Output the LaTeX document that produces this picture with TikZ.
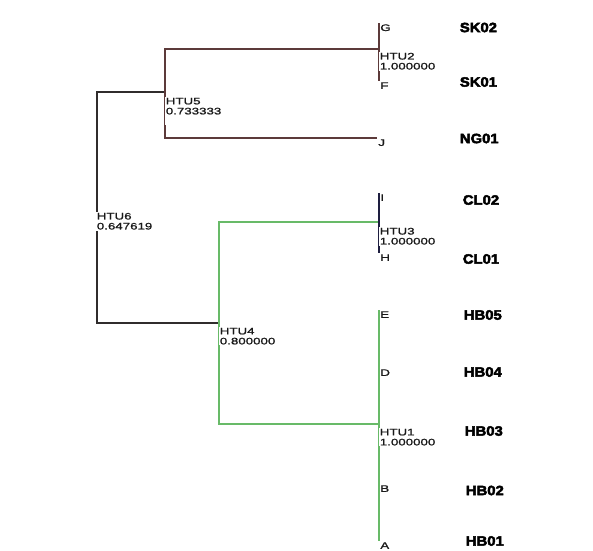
\documentclass[tikz,border=0pt]{standalone}
\usepackage{fontspec}
\setmainfont{Liberation Sans}
\newfontfamily\htufont[FakeStretch=1.4,FakeBold=1.2]{Liberation Sans}
\newfontfamily\taxfont[FakeStretch=1.1,FakeBold=3.5]{Liberation Sans Bold}
\usepackage{tikz}
\usetikzlibrary{positioning}

\definecolor{rootline}{RGB}{48,44,44}
\definecolor{brnline}{RGB}{92,58,58}
\definecolor{grnline}{RGB}{104,186,104}
\definecolor{navyline}{RGB}{30,30,64}

\begin{document}
\begin{tikzpicture}[
  x=1pt, y=-1pt,
  line width=1.7pt,
  leaf/.style={anchor=north west, inner sep=0.5pt, text=black!90,
    font=\htufont\fontsize{9.5}{10}\selectfont},
  htu/.style={anchor=north west, inner sep=1pt, fill=white, align=left,
    text=black!90, font=\htufont\fontsize{9.5}{10}\selectfont},
  tax/.style={anchor=west, inner sep=0pt,
    font=\taxfont\fontsize{13.5}{14}\selectfont},
  rootbr/.style={draw=rootline},
  brnbr/.style={draw=brnline},
  grnbr/.style={draw=grnline},
  navybr/.style={draw=navyline},
]
  % page
  \fill[white] (0,0) rectangle (593,550);
  \useasboundingbox (0,0) rectangle (593,550);

  % join points of the tree
  \coordinate (n6) at (97,216);
  \coordinate (n5) at (165,92);
  \coordinate (n4) at (219,323);
  \coordinate (n2) at (379,49);
  \coordinate (n3) at (379,222);
  \coordinate (n1) at (379,424);

  % leaves
  \foreach \n/\y in {G/23, F/81, I/193, H/253, E/310, D/368, B/484, A/541}
    \node[leaf] (\n) at (379,\y) {\n};
  \node[leaf] (J) at (377,138) {J};

  % branches
  \draw[rootbr] (n6) |- (n5);
  \draw[rootbr] (n6) |- (n4);
  \draw[brnbr] (n5) |- (n2);
  \draw[brnbr] (n5) |- (J.north west);
  \draw[brnbr] (G.north west) -- (F.north west);
  \draw[grnbr] (n4) |- (n3);
  \draw[grnbr] (n4) |- (n1);
  \draw[navybr] (I.north west) -- (H.north west);
  \draw[grnbr] (E.north west) -- (A.north west);

  % HTU labels
  \node[htu] (htu6) at (95,211)  {HTU6\\0.647619};
  \node[htu, text depth=10pt] (htu5) at (164,96) {HTU5\\0.733333};
  \node[htu] (htu4) at (218,326) {HTU4\\0.800000};
  \node[htu] (htu2) at (378,51)  {HTU2\\1.000000};
  \node[htu] (htu3) at (378,226) {HTU3\\1.000000};
  \node[htu] (htu1) at (378,427) {HTU1\\1.000000};

  % taxa
  \foreach \t/\x/\y in {SK02/459/27.5, SK01/459/82, NG01/459/138.5,
                        CL02/462/200, CL01/462/259, HB05/463/315,
                        HB04/463/372, HB03/464/431, HB02/465/490.5,
                        HB01/465/541}
    \node[tax] (\t) at (\x,\y) {\t};
\end{tikzpicture}
\end{document}
